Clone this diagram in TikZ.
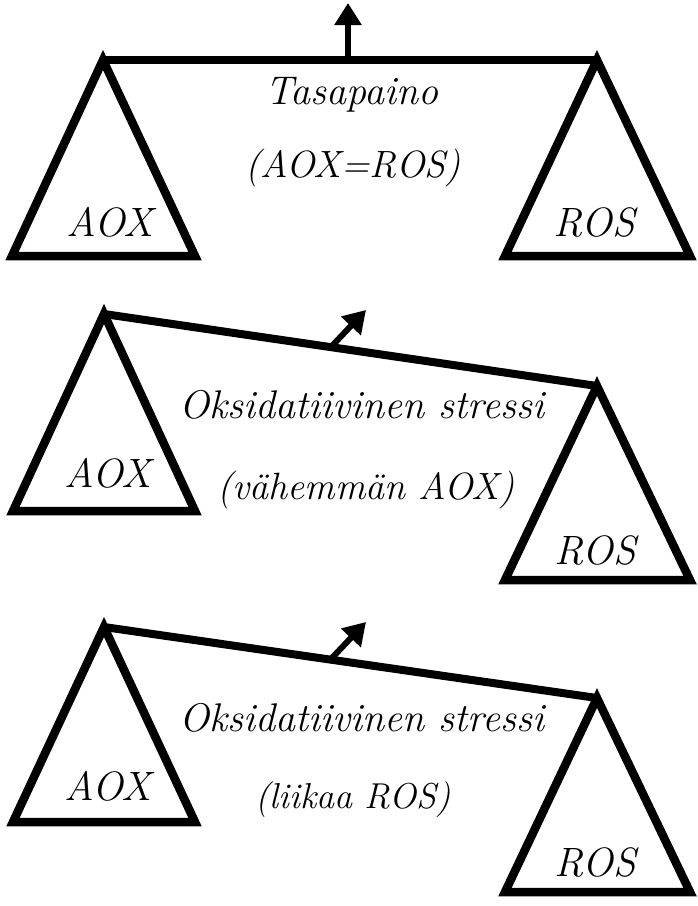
\documentclass[tikz,border=0pt]{standalone}
\usepackage{fontspec}
\usetikzlibrary{arrows.meta}
\begin{document}
\begin{tikzpicture}[x=1pt,y=-1pt,
  pan/.style={line width=8.5pt,line join=miter,miter limit=20},
  beam/.style={line width=8pt,line cap=butt},
  upar/.style={line width=6pt,-{Triangle[length=22pt,width=26pt]}},
  lbl/.style={font=\fontsize{41}{46}\selectfont\itshape,inner sep=0pt},
  big/.style={font=\fontsize{38}{44}\selectfont\itshape,inner sep=0pt},
  huge/.style={font=\fontsize{40}{46}\selectfont\itshape,inner sep=0pt}]
\useasboundingbox[fill=white] (0,0) rectangle (697,906);
% ---------- panel 1
\coordinate (a1) at (103,60);
\coordinate (r1) at (597,60);
\draw[pan] (a1) -- (12,256) -- (195,256) -- cycle;
\draw[pan] (r1) -- (505,256) -- (690,256) -- cycle;
\draw[beam] (a1) -- (r1);
\coordinate (m1) at (348,57);
\coordinate (t1) at (348,3);
\draw[upar] (m1) -- (t1);
\node[huge] (tas) at (352,95) {Tasapaino};
\node[big] (eq) at (353,168) {(AOX=ROS)};
\node[lbl] (aox1) at (110,222) {AOX};
\node[lbl] (ros1) at (594,222) {ROS};
% ---------- panel 2
\coordinate (a2) at (104,314);
\coordinate (r2) at (597,386);
\draw[pan] (a2) -- (13,511) -- (195,511) -- cycle;
\draw[pan] (r2) -- (505,580) -- (690,580) -- cycle;
\draw[beam] (a2) -- (r2);
\coordinate (m2) at (330,348);
\coordinate (t2) at (366,310);
\draw[upar] (m2) -- (t2);
\node[huge] (ox2) at (362,405) {Oksidatiivinen stressi};
\node[big] (vah) at (366,490) {(vähemmän AOX)};
\node[lbl] (aox2) at (108,473) {AOX};
\node[lbl] (ros2) at (595,550) {ROS};
% ---------- panel 3
\coordinate (a3) at (104,627);
\coordinate (r3) at (597,698);
\draw[pan] (a3) -- (13,822) -- (195,822) -- cycle;
\draw[pan] (r3) -- (505,892) -- (690,892) -- cycle;
\draw[beam] (a3) -- (r3);
\coordinate (m3) at (330,660);
\coordinate (t3) at (366,622);
\draw[upar] (m3) -- (t3);
\node[huge] (ox3) at (362,718) {Oksidatiivinen stressi};
\node[big,font=\fontsize{36}{42}\selectfont\itshape] (lii) at (353,800) {(liikaa ROS)};
\node[lbl] (aox3) at (108,786) {AOX};
\node[lbl] (ros3) at (595,862) {ROS};
\end{tikzpicture}
\end{document}
